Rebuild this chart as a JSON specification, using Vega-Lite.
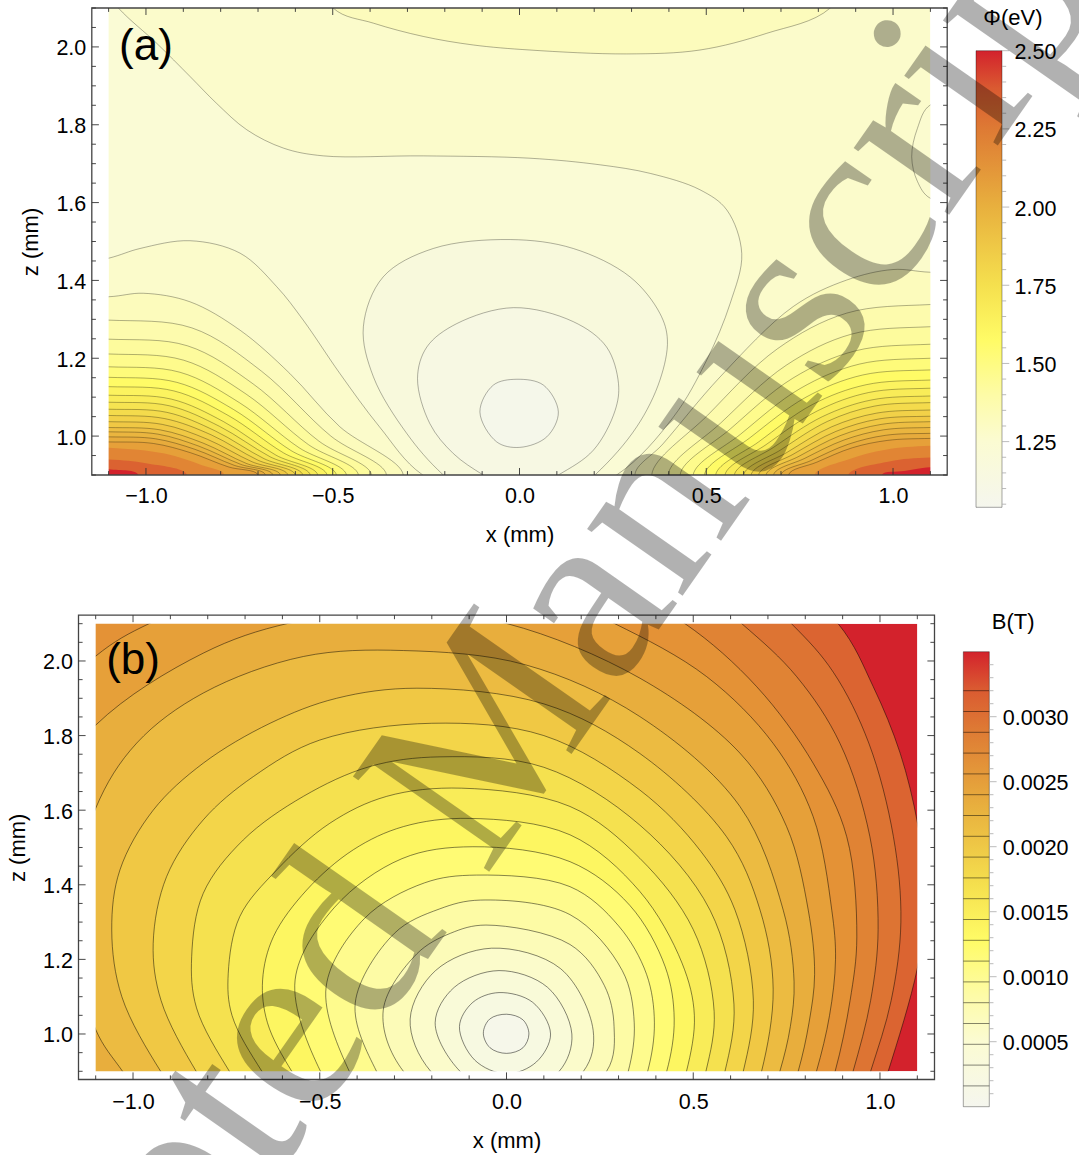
{"$schema":"https://vega.github.io/schema/vega-lite/v6.json","width":1079,"height":1155,"padding":0,"autosize":{"type":"none"},"background":"white",
"config":{"view":{"stroke":null},"font":"Liberation Sans","text":{"font":"Liberation Sans"},"axis":{"domain":false,"ticks":false,"tickSize":0,"grid":false,"labelFont":"Liberation Sans","titleFont":"Liberation Sans","labelFontSize":21.5,"titleFontSize":22,"titleFontWeight":"normal","labelColor":"#000","titleColor":"#000","labelOverlap":false,"labelFlush":false}},
"datasets":{
"av":[{"x":-1.1,"z":0.9,"z2":0.91},{"x":-1,"z":0.9,"z2":0.918},{"x":-0.9,"z":0.9,"z2":0.91},{"x":-0.8,"z":0.9,"z2":0.91},{"x":-0.7,"z":0.9,"z2":0.91},{"x":-0.6,"z":0.9,"z2":0.91},{"x":-0.5,"z":0.9,"z2":0.918},{"x":-0.4,"z":0.9,"z2":0.91},{"x":-0.3,"z":0.9,"z2":0.91},{"x":-0.2,"z":0.9,"z2":0.91},{"x":-0.1,"z":0.9,"z2":0.91},{"x":0,"z":0.9,"z2":0.918},{"x":0.1,"z":0.9,"z2":0.91},{"x":0.2,"z":0.9,"z2":0.91},{"x":0.3,"z":0.9,"z2":0.91},{"x":0.4,"z":0.9,"z2":0.91},{"x":0.5,"z":0.9,"z2":0.918},{"x":0.6,"z":0.9,"z2":0.91},{"x":0.7,"z":0.9,"z2":0.91},{"x":0.8,"z":0.9,"z2":0.91},{"x":0.9,"z":0.9,"z2":0.91},{"x":1,"z":0.9,"z2":0.918},{"x":1.1,"z":0.9,"z2":0.91},
{"x":-1.1,"z":2.1,"z2":2.09},{"x":-1,"z":2.1,"z2":2.082},{"x":-0.9,"z":2.1,"z2":2.09},{"x":-0.8,"z":2.1,"z2":2.09},{"x":-0.7,"z":2.1,"z2":2.09},{"x":-0.6,"z":2.1,"z2":2.09},{"x":-0.5,"z":2.1,"z2":2.082},{"x":-0.4,"z":2.1,"z2":2.09},{"x":-0.3,"z":2.1,"z2":2.09},{"x":-0.2,"z":2.1,"z2":2.09},{"x":-0.1,"z":2.1,"z2":2.09},{"x":0,"z":2.1,"z2":2.082},{"x":0.1,"z":2.1,"z2":2.09},{"x":0.2,"z":2.1,"z2":2.09},{"x":0.3,"z":2.1,"z2":2.09},{"x":0.4,"z":2.1,"z2":2.09},{"x":0.5,"z":2.1,"z2":2.082},{"x":0.6,"z":2.1,"z2":2.09},{"x":0.7,"z":2.1,"z2":2.09},{"x":0.8,"z":2.1,"z2":2.09},{"x":0.9,"z":2.1,"z2":2.09},{"x":1,"z":2.1,"z2":2.082},{"x":1.1,"z":2.1,"z2":2.09}],
"ah":[{"z":0.9,"x":-1.145,"x2":-1.134},{"z":0.95,"x":-1.145,"x2":-1.134},{"z":1,"x":-1.145,"x2":-1.126},{"z":1.05,"x":-1.145,"x2":-1.134},{"z":1.1,"x":-1.145,"x2":-1.134},{"z":1.15,"x":-1.145,"x2":-1.134},{"z":1.2,"x":-1.145,"x2":-1.126},{"z":1.25,"x":-1.145,"x2":-1.134},{"z":1.3,"x":-1.145,"x2":-1.134},{"z":1.35,"x":-1.145,"x2":-1.134},{"z":1.4,"x":-1.145,"x2":-1.126},{"z":1.45,"x":-1.145,"x2":-1.134},{"z":1.5,"x":-1.145,"x2":-1.134},{"z":1.55,"x":-1.145,"x2":-1.134},{"z":1.6,"x":-1.145,"x2":-1.126},{"z":1.65,"x":-1.145,"x2":-1.134},{"z":1.7,"x":-1.145,"x2":-1.134},{"z":1.75,"x":-1.145,"x2":-1.134},{"z":1.8,"x":-1.145,"x2":-1.126},{"z":1.85,"x":-1.145,"x2":-1.134},{"z":1.9,"x":-1.145,"x2":-1.134},{"z":1.95,"x":-1.145,"x2":-1.134},{"z":2,"x":-1.145,"x2":-1.126},{"z":2.05,"x":-1.145,"x2":-1.134},{"z":2.1,"x":-1.145,"x2":-1.134},
{"z":0.9,"x":1.145,"x2":1.134},{"z":0.95,"x":1.145,"x2":1.134},{"z":1,"x":1.145,"x2":1.126},{"z":1.05,"x":1.145,"x2":1.134},{"z":1.1,"x":1.145,"x2":1.134},{"z":1.15,"x":1.145,"x2":1.134},{"z":1.2,"x":1.145,"x2":1.126},{"z":1.25,"x":1.145,"x2":1.134},{"z":1.3,"x":1.145,"x2":1.134},{"z":1.35,"x":1.145,"x2":1.134},{"z":1.4,"x":1.145,"x2":1.126},{"z":1.45,"x":1.145,"x2":1.134},{"z":1.5,"x":1.145,"x2":1.134},{"z":1.55,"x":1.145,"x2":1.134},{"z":1.6,"x":1.145,"x2":1.126},{"z":1.65,"x":1.145,"x2":1.134},{"z":1.7,"x":1.145,"x2":1.134},{"z":1.75,"x":1.145,"x2":1.134},{"z":1.8,"x":1.145,"x2":1.126},{"z":1.85,"x":1.145,"x2":1.134},{"z":1.9,"x":1.145,"x2":1.134},{"z":1.95,"x":1.145,"x2":1.134},{"z":2,"x":1.145,"x2":1.126},{"z":2.05,"x":1.145,"x2":1.134},{"z":2.1,"x":1.145,"x2":1.134}],
"bv":[{"x":-1.1,"z":0.878,"z2":0.889},{"x":-1,"z":0.878,"z2":0.897},{"x":-0.9,"z":0.878,"z2":0.889},{"x":-0.8,"z":0.878,"z2":0.889},{"x":-0.7,"z":0.878,"z2":0.889},{"x":-0.6,"z":0.878,"z2":0.889},{"x":-0.5,"z":0.878,"z2":0.897},{"x":-0.4,"z":0.878,"z2":0.889},{"x":-0.3,"z":0.878,"z2":0.889},{"x":-0.2,"z":0.878,"z2":0.889},{"x":-0.1,"z":0.878,"z2":0.889},{"x":0,"z":0.878,"z2":0.897},{"x":0.1,"z":0.878,"z2":0.889},{"x":0.2,"z":0.878,"z2":0.889},{"x":0.3,"z":0.878,"z2":0.889},{"x":0.4,"z":0.878,"z2":0.889},{"x":0.5,"z":0.878,"z2":0.897},{"x":0.6,"z":0.878,"z2":0.889},{"x":0.7,"z":0.878,"z2":0.889},{"x":0.8,"z":0.878,"z2":0.889},{"x":0.9,"z":0.878,"z2":0.889},{"x":1,"z":0.878,"z2":0.897},{"x":1.1,"z":0.878,"z2":0.889},
{"x":-1.1,"z":2.123,"z2":2.112},{"x":-1,"z":2.123,"z2":2.104},{"x":-0.9,"z":2.123,"z2":2.112},{"x":-0.8,"z":2.123,"z2":2.112},{"x":-0.7,"z":2.123,"z2":2.112},{"x":-0.6,"z":2.123,"z2":2.112},{"x":-0.5,"z":2.123,"z2":2.104},{"x":-0.4,"z":2.123,"z2":2.112},{"x":-0.3,"z":2.123,"z2":2.112},{"x":-0.2,"z":2.123,"z2":2.112},{"x":-0.1,"z":2.123,"z2":2.112},{"x":0,"z":2.123,"z2":2.104},{"x":0.1,"z":2.123,"z2":2.112},{"x":0.2,"z":2.123,"z2":2.112},{"x":0.3,"z":2.123,"z2":2.112},{"x":0.4,"z":2.123,"z2":2.112},{"x":0.5,"z":2.123,"z2":2.104},{"x":0.6,"z":2.123,"z2":2.112},{"x":0.7,"z":2.123,"z2":2.112},{"x":0.8,"z":2.123,"z2":2.112},{"x":0.9,"z":2.123,"z2":2.112},{"x":1,"z":2.123,"z2":2.104},{"x":1.1,"z":2.123,"z2":2.112}],
"bh":[{"z":0.9,"x":-1.146,"x2":-1.135},{"z":0.95,"x":-1.146,"x2":-1.135},{"z":1,"x":-1.146,"x2":-1.127},{"z":1.05,"x":-1.146,"x2":-1.135},{"z":1.1,"x":-1.146,"x2":-1.135},{"z":1.15,"x":-1.146,"x2":-1.135},{"z":1.2,"x":-1.146,"x2":-1.127},{"z":1.25,"x":-1.146,"x2":-1.135},{"z":1.3,"x":-1.146,"x2":-1.135},{"z":1.35,"x":-1.146,"x2":-1.135},{"z":1.4,"x":-1.146,"x2":-1.127},{"z":1.45,"x":-1.146,"x2":-1.135},{"z":1.5,"x":-1.146,"x2":-1.135},{"z":1.55,"x":-1.146,"x2":-1.135},{"z":1.6,"x":-1.146,"x2":-1.127},{"z":1.65,"x":-1.146,"x2":-1.135},{"z":1.7,"x":-1.146,"x2":-1.135},{"z":1.75,"x":-1.146,"x2":-1.135},{"z":1.8,"x":-1.146,"x2":-1.127},{"z":1.85,"x":-1.146,"x2":-1.135},{"z":1.9,"x":-1.146,"x2":-1.135},{"z":1.95,"x":-1.146,"x2":-1.135},{"z":2,"x":-1.146,"x2":-1.127},{"z":2.05,"x":-1.146,"x2":-1.135},{"z":2.1,"x":-1.146,"x2":-1.135},
{"z":0.9,"x":1.146,"x2":1.135},{"z":0.95,"x":1.146,"x2":1.135},{"z":1,"x":1.146,"x2":1.127},{"z":1.05,"x":1.146,"x2":1.135},{"z":1.1,"x":1.146,"x2":1.135},{"z":1.15,"x":1.146,"x2":1.135},{"z":1.2,"x":1.146,"x2":1.127},{"z":1.25,"x":1.146,"x2":1.135},{"z":1.3,"x":1.146,"x2":1.135},{"z":1.35,"x":1.146,"x2":1.135},{"z":1.4,"x":1.146,"x2":1.127},{"z":1.45,"x":1.146,"x2":1.135},{"z":1.5,"x":1.146,"x2":1.135},{"z":1.55,"x":1.146,"x2":1.135},{"z":1.6,"x":1.146,"x2":1.127},{"z":1.65,"x":1.146,"x2":1.135},{"z":1.7,"x":1.146,"x2":1.135},{"z":1.75,"x":1.146,"x2":1.135},{"z":1.8,"x":1.146,"x2":1.127},{"z":1.85,"x":1.146,"x2":1.135},{"z":1.9,"x":1.146,"x2":1.135},{"z":1.95,"x":1.146,"x2":1.135},{"z":2,"x":1.146,"x2":1.127},{"z":2.05,"x":1.146,"x2":1.135},{"z":2.1,"x":1.146,"x2":1.135}],
"bc":[
{"v":0.00312,"x":-0.35,"z":2.72},{"v":0.00312,"x":0.6,"z":2.35},{"v":0.00312,"x":0.888,"z":2.1},{"v":0.00312,"x":0.982,"z":1.931},{"v":0.00312,"x":1.054,"z":1.753},{"v":0.00312,"x":1.101,"z":1.563},{"v":0.00312,"x":1.125,"z":1.37},{"v":0.00312,"x":1.1,"z":1.176},{"v":0.00312,"x":1.022,"z":0.9},{"v":0.00312,"x":0.97,"z":0.75},{"v":0.00312,"x":-0.2,"z":0},{"v":0.00312,"x":-1.7,"z":0.9},{"v":0.00312,"x":-2,"z":1.5},{"v":0.00312,"x":-1.7,"z":2.2},{"v":0.00312,"x":-1,"z":2.6},
{"v":0.00296,"x":-0.35,"z":2.6},{"v":0.00296,"x":0.5,"z":2.33},{"v":0.00296,"x":0.763,"z":2.1},{"v":0.00296,"x":0.875,"z":1.97},{"v":0.00296,"x":0.97,"z":1.78},{"v":0.00296,"x":1.036,"z":1.529},{"v":0.00296,"x":1.056,"z":1.3},{"v":0.00296,"x":1.03,"z":1.09},{"v":0.00296,"x":0.975,"z":0.9},{"v":0.00296,"x":0.925,"z":0.75},{"v":0.00296,"x":-0.2,"z":0.1},{"v":0.00296,"x":-1.6,"z":0.9},{"v":0.00296,"x":-1.85,"z":1.5},{"v":0.00296,"x":-1.6,"z":2.1},{"v":0.00296,"x":-1,"z":2.5},
{"v":0.0028,"x":-0.35,"z":2.49},{"v":0.0028,"x":0.4,"z":2.28},{"v":0.0028,"x":0.63,"z":2.1},{"v":0.0028,"x":0.777,"z":1.958},{"v":0.0028,"x":0.893,"z":1.779},{"v":0.0028,"x":0.973,"z":1.529},{"v":0.0028,"x":0.995,"z":1.28},{"v":0.0028,"x":0.975,"z":1.09},{"v":0.0028,"x":0.928,"z":0.9},{"v":0.0028,"x":0.88,"z":0.75},{"v":0.0028,"x":-0.2,"z":0.2},{"v":0.0028,"x":-1.45,"z":0.9},{"v":0.0028,"x":-1.7,"z":1.4},{"v":0.0028,"x":-1.5,"z":2},{"v":0.0028,"x":-1,"z":2.4},
{"v":0.00264,"x":-0.35,"z":2.37},{"v":0.00264,"x":0.25,"z":2.22},{"v":0.00264,"x":0.478,"z":2.1},{"v":0.00264,"x":0.67,"z":1.931},{"v":0.00264,"x":0.821,"z":1.726},{"v":0.00264,"x":0.911,"z":1.529},{"v":0.00264,"x":0.938,"z":1.26},{"v":0.00264,"x":0.92,"z":1.09},{"v":0.00264,"x":0.88,"z":0.9},{"v":0.00264,"x":0.83,"z":0.75},{"v":0.00264,"x":-0.2,"z":0.3},{"v":0.00264,"x":-1.33,"z":0.9},{"v":0.00264,"x":-1.55,"z":1.3},{"v":0.00264,"x":-1.45,"z":1.85},{"v":0.00264,"x":-1.1,"z":2.2},
{"v":0.00248,"x":-0.33,"z":2.25},{"v":0.00248,"x":0.05,"z":2.2},{"v":0.00248,"x":0.29,"z":2.1},{"v":0.00248,"x":0.536,"z":1.958},{"v":0.00248,"x":0.714,"z":1.779},{"v":0.00248,"x":0.821,"z":1.583},{"v":0.00248,"x":0.871,"z":1.332},{"v":0.00248,"x":0.881,"z":1.2},{"v":0.00248,"x":0.865,"z":1.05},{"v":0.00248,"x":0.83,"z":0.9},{"v":0.00248,"x":0.78,"z":0.75},{"v":0.00248,"x":-0.2,"z":0.4},{"v":0.00248,"x":-1.13,"z":0.77},{"v":0.00248,"x":-1.23,"z":0.9},{"v":0.00248,"x":-1.42,"z":1.3},{"v":0.00248,"x":-1.35,"z":1.75},{"v":0.00248,"x":-1.1,"z":2.013},{"v":0.00248,"x":-0.955,"z":2.101},{"v":0.00248,"x":-0.65,"z":2.21},
{"v":0.00232,"x":-0.29,"z":2.135},{"v":0.00232,"x":0.002,"z":2.1},{"v":0.00232,"x":0.357,"z":1.954},{"v":0.00232,"x":0.625,"z":1.753},{"v":0.00232,"x":0.75,"z":1.556},{"v":0.00232,"x":0.808,"z":1.332},{"v":0.00232,"x":0.825,"z":1.16},{"v":0.00232,"x":0.81,"z":1.03},{"v":0.00232,"x":0.781,"z":0.9},{"v":0.00232,"x":0.73,"z":0.75},{"v":0.00232,"x":-0.2,"z":0.5},{"v":0.00232,"x":-1.03,"z":0.77},{"v":0.00232,"x":-1.13,"z":0.9},{"v":0.00232,"x":-1.3,"z":1.2},{"v":0.00232,"x":-1.3,"z":1.55},{"v":0.00232,"x":-1.1,"z":1.828},{"v":0.00232,"x":-0.812,"z":2.021},{"v":0.00232,"x":-0.584,"z":2.101},
{"v":0.00216,"x":-0.276,"z":2.028},{"v":0.00216,"x":0.05,"z":1.99},{"v":0.00216,"x":0.357,"z":1.851},{"v":0.00216,"x":0.625,"z":1.61},{"v":0.00216,"x":0.741,"z":1.332},{"v":0.00216,"x":0.77,"z":1.14},{"v":0.00216,"x":0.76,"z":1.02},{"v":0.00216,"x":0.732,"z":0.9},{"v":0.00216,"x":0.68,"z":0.75},{"v":0.00216,"x":-0.15,"z":0.45},{"v":0.00216,"x":-0.93,"z":0.77},{"v":0.00216,"x":-1.028,"z":0.9},{"v":0.00216,"x":-1.1,"z":1.012},{"v":0.00216,"x":-1.17,"z":1.3},{"v":0.00216,"x":-1.1,"z":1.605},{"v":0.00216,"x":-0.99,"z":1.78},{"v":0.00216,"x":-0.812,"z":1.914},{"v":0.00216,"x":-0.544,"z":2.012},
{"v":0.002,"x":-0.24,"z":1.927},{"v":0.002,"x":0.1,"z":1.885},{"v":0.002,"x":0.357,"z":1.752},{"v":0.002,"x":0.589,"z":1.529},{"v":0.002,"x":0.679,"z":1.332},{"v":0.002,"x":0.714,"z":1.12},{"v":0.002,"x":0.683,"z":0.9},{"v":0.002,"x":0.63,"z":0.75},{"v":0.002,"x":-0.15,"z":0.48},{"v":0.002,"x":-0.83,"z":0.77},{"v":0.002,"x":-0.926,"z":0.9},{"v":0.002,"x":-1.03,"z":1.1},{"v":0.002,"x":-1.057,"z":1.279},{"v":0.002,"x":-1.035,"z":1.44},{"v":0.002,"x":-0.946,"z":1.6},{"v":0.002,"x":-0.812,"z":1.726},{"v":0.002,"x":-0.633,"z":1.833},{"v":0.002,"x":-0.455,"z":1.9},
{"v":0.00184,"x":-0.2,"z":1.833},{"v":0.00184,"x":0.1,"z":1.8},{"v":0.00184,"x":0.357,"z":1.654},{"v":0.00184,"x":0.52,"z":1.49},{"v":0.00184,"x":0.612,"z":1.332},{"v":0.00184,"x":0.661,"z":1.09},{"v":0.00184,"x":0.634,"z":0.9},{"v":0.00184,"x":0.585,"z":0.75},{"v":0.00184,"x":-0.15,"z":0.5},{"v":0.00184,"x":-0.74,"z":0.77},{"v":0.00184,"x":-0.831,"z":0.9},{"v":0.00184,"x":-0.925,"z":1.09},{"v":0.00184,"x":-0.946,"z":1.243},{"v":0.00184,"x":-0.91,"z":1.422},{"v":0.00184,"x":-0.812,"z":1.574},{"v":0.00184,"x":-0.678,"z":1.69},{"v":0.00184,"x":-0.5,"z":1.788},
{"v":0.00168,"x":-0.178,"z":1.743},{"v":0.00168,"x":0.1,"z":1.715},{"v":0.00168,"x":0.357,"z":1.56},{"v":0.00168,"x":0.545,"z":1.332},{"v":0.00168,"x":0.609,"z":1.08},{"v":0.00168,"x":0.585,"z":0.9},{"v":0.00168,"x":0.535,"z":0.75},{"v":0.00168,"x":-0.15,"z":0.52},{"v":0.00168,"x":-0.65,"z":0.77},{"v":0.00168,"x":-0.742,"z":0.9},{"v":0.00168,"x":-0.83,"z":1.07},{"v":0.00168,"x":-0.843,"z":1.207},{"v":0.00168,"x":-0.812,"z":1.377},{"v":0.00168,"x":-0.705,"z":1.52},{"v":0.00168,"x":-0.544,"z":1.637},{"v":0.00168,"x":-0.366,"z":1.717},
{"v":0.00152,"x":-0.12,"z":1.659},{"v":0.00152,"x":0.17,"z":1.61},{"v":0.00152,"x":0.357,"z":1.471},{"v":0.00152,"x":0.5,"z":1.28},{"v":0.00152,"x":0.556,"z":1.06},{"v":0.00152,"x":0.534,"z":0.9},{"v":0.00152,"x":0.485,"z":0.75},{"v":0.00152,"x":-0.1,"z":0.54},{"v":0.00152,"x":-0.56,"z":0.77},{"v":0.00152,"x":-0.655,"z":0.9},{"v":0.00152,"x":-0.735,"z":1.05},{"v":0.00152,"x":-0.745,"z":1.163},{"v":0.00152,"x":-0.714,"z":1.315},{"v":0.00152,"x":-0.615,"z":1.44},{"v":0.00152,"x":-0.473,"z":1.565},{"v":0.00152,"x":-0.321,"z":1.637},
{"v":0.00136,"x":-0.1,"z":1.578},{"v":0.00136,"x":0.17,"z":1.534},{"v":0.00136,"x":0.357,"z":1.382},{"v":0.00136,"x":0.47,"z":1.19},{"v":0.00136,"x":0.503,"z":1.05},{"v":0.00136,"x":0.482,"z":0.9},{"v":0.00136,"x":0.43,"z":0.75},{"v":0.00136,"x":-0.05,"z":0.56},{"v":0.00136,"x":-0.48,"z":0.77},{"v":0.00136,"x":-0.575,"z":0.9},{"v":0.00136,"x":-0.64,"z":1.03},{"v":0.00136,"x":-0.653,"z":1.145},{"v":0.00136,"x":-0.624,"z":1.261},{"v":0.00136,"x":-0.535,"z":1.386},{"v":0.00136,"x":-0.41,"z":1.494},{"v":0.00136,"x":-0.276,"z":1.556},
{"v":0.0012,"x":-0.09,"z":1.502},{"v":0.0012,"x":0.17,"z":1.462},{"v":0.0012,"x":0.33,"z":1.345},{"v":0.0012,"x":0.425,"z":1.18},{"v":0.0012,"x":0.449,"z":1.04},{"v":0.0012,"x":0.429,"z":0.9},{"v":0.0012,"x":0.37,"z":0.75},{"v":0.0012,"x":0,"z":0.6},{"v":0.0012,"x":-0.41,"z":0.78},{"v":0.0012,"x":-0.498,"z":0.9},{"v":0.0012,"x":-0.566,"z":1.145},{"v":0.0012,"x":-0.46,"z":1.34},{"v":0.0012,"x":-0.28,"z":1.47},
{"v":0.00104,"x":-0.08,"z":1.426},{"v":0.00104,"x":0.17,"z":1.395},{"v":0.00104,"x":0.3,"z":1.29},{"v":0.00104,"x":0.375,"z":1.16},{"v":0.00104,"x":0.396,"z":1.03},{"v":0.00104,"x":0.378,"z":0.9},{"v":0.00104,"x":0.32,"z":0.75},{"v":0.00104,"x":0,"z":0.64},{"v":0.00104,"x":-0.34,"z":0.78},{"v":0.00104,"x":-0.421,"z":0.9},{"v":0.00104,"x":-0.483,"z":1.126},{"v":0.00104,"x":-0.38,"z":1.31},{"v":0.00104,"x":-0.22,"z":1.405},
{"v":0.00088,"x":-0.07,"z":1.359},{"v":0.00088,"x":0.17,"z":1.32},{"v":0.00088,"x":0.31,"z":1.17},{"v":0.00088,"x":0.342,"z":1.03},{"v":0.00088,"x":0.326,"z":0.9},{"v":0.00088,"x":0.27,"z":0.76},{"v":0.00088,"x":0,"z":0.68},{"v":0.00088,"x":-0.27,"z":0.79},{"v":0.00088,"x":-0.348,"z":0.9},{"v":0.00088,"x":-0.405,"z":1.083},{"v":0.00088,"x":-0.3,"z":1.27},{"v":0.00088,"x":-0.18,"z":1.335},
{"v":0.00072,"x":-0.055,"z":1.292},{"v":0.00072,"x":0.17,"z":1.24},{"v":0.00072,"x":0.262,"z":1.13},{"v":0.00072,"x":0.288,"z":1.02},{"v":0.00072,"x":0.268,"z":0.9},{"v":0.00072,"x":0,"z":0.72},{"v":0.00072,"x":-0.276,"z":0.9},{"v":0.00072,"x":-0.33,"z":1.064},{"v":0.00072,"x":-0.24,"z":1.215},{"v":0.00072,"x":-0.15,"z":1.27},
{"v":0.00056,"x":-0.04,"z":1.23},{"v":0.00056,"x":0.145,"z":1.175},{"v":0.00056,"x":0.232,"z":1.01},{"v":0.00056,"x":0.206,"z":0.9},{"v":0.00056,"x":0,"z":0.78},{"v":0.00056,"x":-0.203,"z":0.9},{"v":0.00056,"x":-0.258,"z":1.04},{"v":0.00056,"x":-0.19,"z":1.17},
{"v":0.0004,"x":-0.02,"z":1.17},{"v":0.0004,"x":0.11,"z":1.125},{"v":0.0004,"x":0.175,"z":1.0},{"v":0.0004,"x":0.141,"z":0.9},{"v":0.0004,"x":0,"z":0.83},{"v":0.0004,"x":-0.1245,"z":0.9},{"v":0.0004,"x":-0.191,"z":1.03},{"v":0.0004,"x":-0.14,"z":1.125},
{"v":0.00024,"x":-0.02,"z":1.111},{"v":0.00024,"x":0.07,"z":1.085},{"v":0.00024,"x":0.118,"z":1.0},{"v":0.00024,"x":0.08,"z":0.925},{"v":0.00024,"x":0,"z":0.893},{"v":0.00024,"x":-0.085,"z":0.93},{"v":0.00024,"x":-0.126,"z":1.02},{"v":0.00024,"x":-0.09,"z":1.085},
{"v":0.00008,"x":0,"z":1.053},{"v":0.00008,"x":0.044,"z":1.038},{"v":0.00008,"x":0.06,"z":1.0},{"v":0.00008,"x":0.044,"z":0.963},{"v":0.00008,"x":0,"z":0.948},{"v":0.00008,"x":-0.044,"z":0.963},{"v":0.00008,"x":-0.062,"z":1.002},{"v":0.00008,"x":-0.045,"z":1.04}
],
"ac":[
{"c":"c4","v":1.225,"x":-0.259,"z":0.9},{"c":"c4","v":1.225,"x":-0.375,"z":1.024},{"c":"c4","v":1.225,"x":-0.481,"z":1.161},{"c":"c4","v":1.225,"x":-0.579,"z":1.298},{"c":"c4","v":1.225,"x":-0.65,"z":1.384},{"c":"c4","v":1.225,"x":-0.748,"z":1.47},{"c":"c4","v":1.225,"x":-0.882,"z":1.502},{"c":"c4","v":1.225,"x":-1.016,"z":1.482},{"c":"c4","v":1.225,"x":-1.1,"z":1.457},{"c":"c4","v":1.225,"x":-1.4,"z":1.4},{"c":"c4","v":1.225,"x":-1.4,"z":2.3},{"c":"c4","v":1.225,"x":-1.2,"z":2.25},{"c":"c4","v":1.225,"x":-1.074,"z":2.1},{"c":"c4","v":1.225,"x":-0.972,"z":2.01},{"c":"c4","v":1.225,"x":-0.882,"z":1.924},{"c":"c4","v":1.225,"x":-0.811,"z":1.855},{"c":"c4","v":1.225,"x":-0.73,"z":1.787},{"c":"c4","v":1.225,"x":-0.632,"z":1.74},{"c":"c4","v":1.225,"x":-0.525,"z":1.72},{"c":"c4","v":1.225,"x":-0.258,"z":1.72},{"c":"c4","v":1.225,"x":0.028,"z":1.714},{"c":"c4","v":1.225,"x":0.216,"z":1.697},{"c":"c4","v":1.225,"x":0.35,"z":1.675},{"c":"c4","v":1.225,"x":0.483,"z":1.633},{"c":"c4","v":1.225,"x":0.555,"z":1.581},{"c":"c4","v":1.225,"x":0.595,"z":1.469},{"c":"c4","v":1.225,"x":0.564,"z":1.341},{"c":"c4","v":1.225,"x":0.501,"z":1.195},{"c":"c4","v":1.225,"x":0.412,"z":1.049},{"c":"c4","v":1.225,"x":0.26,"z":0.9},{"c":"c4","v":1.225,"x":0,"z":0.8},
{"c":"top","v":1.325,"x":-0.499,"z":2.1},{"c":"top","v":1.325,"x":-0.391,"z":2.061},{"c":"top","v":1.325,"x":-0.258,"z":2.027},{"c":"top","v":1.325,"x":-0.124,"z":2.005},{"c":"top","v":1.325,"x":0.028,"z":1.992},{"c":"top","v":1.325,"x":0.287,"z":1.982},{"c":"top","v":1.325,"x":0.483,"z":1.992},{"c":"top","v":1.325,"x":0.662,"z":2.035},{"c":"top","v":1.325,"x":0.832,"z":2.1},{"c":"top","v":1.325,"x":0.95,"z":2.3},{"c":"top","v":1.325,"x":-0.6,"z":2.3},
{"c":"arc","v":1.26,"x":1.1,"z":1.851},{"c":"arc","v":1.26,"x":1.065,"z":1.79},{"c":"arc","v":1.26,"x":1.05,"z":1.718},{"c":"arc","v":1.26,"x":1.065,"z":1.655},{"c":"arc","v":1.26,"x":1.1,"z":1.611},{"c":"arc","v":1.26,"x":1.25,"z":1.6},{"c":"arc","v":1.26,"x":1.25,"z":1.86},
{"c":"l30","v":1.325,"x":-1.35,"z":1.358},{"c":"l30","v":1.325,"x":-1.1,"z":1.358},{"c":"l30","v":1.325,"x":-1.007,"z":1.367},{"c":"l30","v":1.325,"x":-0.882,"z":1.345},{"c":"l30","v":1.325,"x":-0.748,"z":1.272},{"c":"l30","v":1.325,"x":-0.615,"z":1.161},{"c":"l30","v":1.325,"x":-0.481,"z":1.024},{"c":"l30","v":1.325,"x":-0.311,"z":0.9},{"c":"l30","v":1.325,"x":-0.37,"z":0.82},{"c":"l30","v":1.325,"x":-1.35,"z":0.8},
{"c":"r30","v":1.325,"x":1.35,"z":1.421},{"c":"r30","v":1.325,"x":1.1,"z":1.421},{"c":"r30","v":1.325,"x":1.0,"z":1.428},{"c":"r30","v":1.325,"x":0.876,"z":1.401},{"c":"r30","v":1.325,"x":0.733,"z":1.333},{"c":"r30","v":1.325,"x":0.537,"z":1.152},{"c":"r30","v":1.325,"x":0.385,"z":0.981},{"c":"r30","v":1.325,"x":0.309,"z":0.9},{"c":"r30","v":1.325,"x":0.37,"z":0.82},{"c":"r30","v":1.325,"x":1.35,"z":0.8},
{"c":"l35","v":1.375,"x":-1.35,"z":1.298},{"c":"l35","v":1.375,"x":-1.1,"z":1.298},{"c":"l35","v":1.375,"x":-0.877,"z":1.278},{"c":"l35","v":1.375,"x":-0.691,"z":1.167},{"c":"l35","v":1.375,"x":-0.505,"z":1.0},{"c":"l35","v":1.375,"x":-0.356,"z":0.9},{"c":"l35","v":1.375,"x":-0.42,"z":0.82},{"c":"l35","v":1.375,"x":-1.35,"z":0.8},
{"c":"r35","v":1.375,"x":1.35,"z":1.338},{"c":"r35","v":1.375,"x":1.1,"z":1.338},{"c":"r35","v":1.375,"x":0.876,"z":1.316},{"c":"r35","v":1.375,"x":0.69,"z":1.224},{"c":"r35","v":1.375,"x":0.503,"z":1.053},{"c":"r35","v":1.375,"x":0.354,"z":0.9},{"c":"r35","v":1.375,"x":0.41,"z":0.82},{"c":"r35","v":1.375,"x":1.35,"z":0.8},
{"c":"l40","v":1.425,"x":-1.35,"z":1.249},{"c":"l40","v":1.425,"x":-1.1,"z":1.249},{"c":"l40","v":1.425,"x":-0.889,"z":1.232},{"c":"l40","v":1.425,"x":-0.713,"z":1.134},{"c":"l40","v":1.425,"x":-0.537,"z":0.987},{"c":"l40","v":1.425,"x":-0.396,"z":0.9},{"c":"l40","v":1.425,"x":-0.46,"z":0.82},{"c":"l40","v":1.425,"x":-1.35,"z":0.8},
{"c":"r40","v":1.425,"x":1.35,"z":1.281},{"c":"r40","v":1.425,"x":1.1,"z":1.281},{"c":"r40","v":1.425,"x":0.889,"z":1.262},{"c":"r40","v":1.425,"x":0.714,"z":1.182},{"c":"r40","v":1.425,"x":0.538,"z":1.033},{"c":"r40","v":1.425,"x":0.398,"z":0.9},{"c":"r40","v":1.425,"x":0.46,"z":0.82},{"c":"r40","v":1.425,"x":1.35,"z":0.8},
{"c":"l45","v":1.475,"x":-1.35,"z":1.211},{"c":"l45","v":1.475,"x":-1.1,"z":1.211},{"c":"l45","v":1.475,"x":-0.899,"z":1.195},{"c":"l45","v":1.475,"x":-0.732,"z":1.108},{"c":"l45","v":1.475,"x":-0.565,"z":0.978},{"c":"l45","v":1.475,"x":-0.431,"z":0.9},{"c":"l45","v":1.475,"x":-0.49,"z":0.82},{"c":"l45","v":1.475,"x":-1.35,"z":0.8},
{"c":"r45","v":1.475,"x":1.35,"z":1.236},{"c":"r45","v":1.475,"x":1.1,"z":1.236},{"c":"r45","v":1.475,"x":0.899,"z":1.219},{"c":"r45","v":1.475,"x":0.732,"z":1.149},{"c":"r45","v":1.475,"x":0.564,"z":1.018},{"c":"r45","v":1.475,"x":0.43,"z":0.9},{"c":"r45","v":1.475,"x":0.49,"z":0.82},{"c":"r45","v":1.475,"x":1.35,"z":0.8},
{"c":"l50","v":1.525,"x":-1.35,"z":1.178},{"c":"l50","v":1.525,"x":-1.1,"z":1.178},{"c":"l50","v":1.525,"x":-0.909,"z":1.164},{"c":"l50","v":1.525,"x":-0.75,"z":1.086},{"c":"l50","v":1.525,"x":-0.59,"z":0.97},{"c":"l50","v":1.525,"x":-0.463,"z":0.9},{"c":"l50","v":1.525,"x":-0.52,"z":0.82},{"c":"l50","v":1.525,"x":-1.35,"z":0.8},
{"c":"r50","v":1.525,"x":1.35,"z":1.2},{"c":"r50","v":1.525,"x":1.1,"z":1.2},{"c":"r50","v":1.525,"x":0.91,"z":1.185},{"c":"r50","v":1.525,"x":0.751,"z":1.122},{"c":"r50","v":1.525,"x":0.592,"z":1.005},{"c":"r50","v":1.525,"x":0.465,"z":0.9},{"c":"r50","v":1.525,"x":0.52,"z":0.82},{"c":"r50","v":1.525,"x":1.35,"z":0.8},
{"c":"l55","v":1.575,"x":-1.35,"z":1.151},{"c":"l55","v":1.575,"x":-1.1,"z":1.151},{"c":"l55","v":1.575,"x":-0.917,"z":1.138},{"c":"l55","v":1.575,"x":-0.765,"z":1.068},{"c":"l55","v":1.575,"x":-0.612,"z":0.963},{"c":"l55","v":1.575,"x":-0.49,"z":0.9},{"c":"l55","v":1.575,"x":-0.55,"z":0.82},{"c":"l55","v":1.575,"x":-1.35,"z":0.8},
{"c":"r55","v":1.575,"x":1.35,"z":1.17},{"c":"r55","v":1.575,"x":1.1,"z":1.17},{"c":"r55","v":1.575,"x":0.919,"z":1.157},{"c":"r55","v":1.575,"x":0.767,"z":1.1},{"c":"r55","v":1.575,"x":0.616,"z":0.995},{"c":"r55","v":1.575,"x":0.495,"z":0.9},{"c":"r55","v":1.575,"x":0.55,"z":0.82},{"c":"r55","v":1.575,"x":1.35,"z":0.8},
{"c":"l60","v":1.625,"x":-1.35,"z":1.127},{"c":"l60","v":1.625,"x":-1.1,"z":1.127},{"c":"l60","v":1.625,"x":-0.925,"z":1.116},{"c":"l60","v":1.625,"x":-0.778,"z":1.052},{"c":"l60","v":1.625,"x":-0.632,"z":0.957},{"c":"l60","v":1.625,"x":-0.515,"z":0.9},{"c":"l60","v":1.625,"x":-0.57,"z":0.82},{"c":"l60","v":1.625,"x":-1.35,"z":0.8},
{"c":"r60","v":1.625,"x":1.35,"z":1.144},{"c":"r60","v":1.625,"x":1.1,"z":1.144},{"c":"r60","v":1.625,"x":0.928,"z":1.132},{"c":"r60","v":1.625,"x":0.784,"z":1.081},{"c":"r60","v":1.625,"x":0.64,"z":0.985},{"c":"r60","v":1.625,"x":0.525,"z":0.9},{"c":"r60","v":1.625,"x":0.58,"z":0.82},{"c":"r60","v":1.625,"x":1.35,"z":0.8},
{"c":"l65","v":1.675,"x":-1.35,"z":1.105},{"c":"l65","v":1.675,"x":-1.1,"z":1.105},{"c":"l65","v":1.675,"x":-0.932,"z":1.095},{"c":"l65","v":1.675,"x":-0.792,"z":1.037},{"c":"l65","v":1.675,"x":-0.652,"z":0.951},{"c":"l65","v":1.675,"x":-0.54,"z":0.9},{"c":"l65","v":1.675,"x":-0.6,"z":0.82},{"c":"l65","v":1.675,"x":-1.35,"z":0.8},
{"c":"r65","v":1.675,"x":1.35,"z":1.123},{"c":"r65","v":1.675,"x":1.1,"z":1.123},{"c":"r65","v":1.675,"x":0.935,"z":1.112},{"c":"r65","v":1.675,"x":0.798,"z":1.065},{"c":"r65","v":1.675,"x":0.66,"z":0.978},{"c":"r65","v":1.675,"x":0.55,"z":0.9},{"c":"r65","v":1.675,"x":0.6,"z":0.82},{"c":"r65","v":1.675,"x":1.35,"z":0.8},
{"c":"l70","v":1.725,"x":-1.35,"z":1.087},{"c":"l70","v":1.725,"x":-1.1,"z":1.087},{"c":"l70","v":1.725,"x":-0.938,"z":1.078},{"c":"l70","v":1.725,"x":-0.803,"z":1.025},{"c":"l70","v":1.725,"x":-0.668,"z":0.947},{"c":"l70","v":1.725,"x":-0.56,"z":0.9},{"c":"l70","v":1.725,"x":-0.62,"z":0.82},{"c":"l70","v":1.725,"x":-1.35,"z":0.8},
{"c":"r70","v":1.725,"x":1.35,"z":1.103},{"c":"r70","v":1.725,"x":1.1,"z":1.103},{"c":"r70","v":1.725,"x":0.943,"z":1.093},{"c":"r70","v":1.725,"x":0.811,"z":1.05},{"c":"r70","v":1.725,"x":0.68,"z":0.971},{"c":"r70","v":1.725,"x":0.575,"z":0.9},{"c":"r70","v":1.725,"x":0.63,"z":0.82},{"c":"r70","v":1.725,"x":1.35,"z":0.8},
{"c":"l75","v":1.775,"x":-1.35,"z":1.069},{"c":"l75","v":1.775,"x":-1.1,"z":1.069},{"c":"l75","v":1.775,"x":-0.944,"z":1.061},{"c":"l75","v":1.775,"x":-0.814,"z":1.013},{"c":"l75","v":1.775,"x":-0.684,"z":0.942},{"c":"l75","v":1.775,"x":-0.58,"z":0.9},{"c":"l75","v":1.775,"x":-0.64,"z":0.82},{"c":"l75","v":1.775,"x":-1.35,"z":0.8},
{"c":"r75","v":1.775,"x":1.35,"z":1.086},{"c":"r75","v":1.775,"x":1.1,"z":1.086},{"c":"r75","v":1.775,"x":0.95,"z":1.077},{"c":"r75","v":1.775,"x":0.825,"z":1.038},{"c":"r75","v":1.775,"x":0.7,"z":0.965},{"c":"r75","v":1.775,"x":0.6,"z":0.9},{"c":"r75","v":1.775,"x":0.66,"z":0.82},{"c":"r75","v":1.775,"x":1.35,"z":0.8},
{"c":"l80","v":1.825,"x":-1.35,"z":1.053},{"c":"l80","v":1.825,"x":-1.1,"z":1.053},{"c":"l80","v":1.825,"x":-0.95,"z":1.045},{"c":"l80","v":1.825,"x":-0.825,"z":1.003},{"c":"l80","v":1.825,"x":-0.7,"z":0.938},{"c":"l80","v":1.825,"x":-0.6,"z":0.9},{"c":"l80","v":1.825,"x":-0.66,"z":0.82},{"c":"l80","v":1.825,"x":-1.35,"z":0.8},
{"c":"r80","v":1.825,"x":1.35,"z":1.067},{"c":"r80","v":1.825,"x":1.1,"z":1.067},{"c":"r80","v":1.825,"x":0.956,"z":1.059},{"c":"r80","v":1.825,"x":0.836,"z":1.024},{"c":"r80","v":1.825,"x":0.716,"z":0.958},{"c":"r80","v":1.825,"x":0.62,"z":0.9},{"c":"r80","v":1.825,"x":0.68,"z":0.82},{"c":"r80","v":1.825,"x":1.35,"z":0.8},
{"c":"l85","v":1.875,"x":-1.35,"z":1.037},{"c":"l85","v":1.875,"x":-1.1,"z":1.037},{"c":"l85","v":1.875,"x":-0.956,"z":1.03},{"c":"l85","v":1.875,"x":-0.836,"z":0.992},{"c":"l85","v":1.875,"x":-0.716,"z":0.934},{"c":"l85","v":1.875,"x":-0.62,"z":0.9},{"c":"l85","v":1.875,"x":-0.68,"z":0.82},{"c":"l85","v":1.875,"x":-1.35,"z":0.8},
{"c":"r85","v":1.875,"x":1.35,"z":1.051},{"c":"r85","v":1.875,"x":1.1,"z":1.051},{"c":"r85","v":1.875,"x":0.962,"z":1.044},{"c":"r85","v":1.875,"x":0.847,"z":1.012},{"c":"r85","v":1.875,"x":0.732,"z":0.953},{"c":"r85","v":1.875,"x":0.64,"z":0.9},{"c":"r85","v":1.875,"x":0.7,"z":0.82},{"c":"r85","v":1.875,"x":1.35,"z":0.8},
{"c":"l90","v":1.925,"x":-1.35,"z":1.022},{"c":"l90","v":1.925,"x":-1.1,"z":1.022},{"c":"l90","v":1.925,"x":-0.962,"z":1.016},{"c":"l90","v":1.925,"x":-0.847,"z":0.982},{"c":"l90","v":1.925,"x":-0.732,"z":0.93},{"c":"l90","v":1.925,"x":-0.64,"z":0.9},{"c":"l90","v":1.925,"x":-0.7,"z":0.82},{"c":"l90","v":1.925,"x":-1.35,"z":0.8},
{"c":"r90","v":1.925,"x":1.35,"z":1.037},{"c":"r90","v":1.925,"x":1.1,"z":1.037},{"c":"r90","v":1.925,"x":0.968,"z":1.03},{"c":"r90","v":1.925,"x":0.858,"z":1.001},{"c":"r90","v":1.925,"x":0.748,"z":0.948},{"c":"r90","v":1.925,"x":0.66,"z":0.9},{"c":"r90","v":1.925,"x":0.72,"z":0.82},{"c":"r90","v":1.925,"x":1.35,"z":0.8},
{"c":"l95","v":1.975,"x":-1.35,"z":1.011},{"c":"l95","v":1.975,"x":-1.1,"z":1.011},{"c":"l95","v":1.975,"x":-0.968,"z":1.005},{"c":"l95","v":1.975,"x":-0.858,"z":0.974},{"c":"l95","v":1.975,"x":-0.748,"z":0.928},{"c":"l95","v":1.975,"x":-0.66,"z":0.9},{"c":"l95","v":1.975,"x":-0.72,"z":0.82},{"c":"l95","v":1.975,"x":-1.35,"z":0.8},
{"c":"r95","v":1.975,"x":1.35,"z":1.022},{"c":"r95","v":1.975,"x":1.1,"z":1.022},{"c":"r95","v":1.975,"x":0.974,"z":1.016},{"c":"r95","v":1.975,"x":0.869,"z":0.99},{"c":"r95","v":1.975,"x":0.764,"z":0.943},{"c":"r95","v":1.975,"x":0.68,"z":0.9},{"c":"r95","v":1.975,"x":0.74,"z":0.82},{"c":"r95","v":1.975,"x":1.35,"z":0.8},
{"c":"l00","v":2.025,"x":-1.35,"z":0.998},{"c":"l00","v":2.025,"x":-1.1,"z":0.998},{"c":"l00","v":2.025,"x":-0.974,"z":0.993},{"c":"l00","v":2.025,"x":-0.869,"z":0.966},{"c":"l00","v":2.025,"x":-0.764,"z":0.925},{"c":"l00","v":2.025,"x":-0.68,"z":0.9},{"c":"l00","v":2.025,"x":-0.74,"z":0.82},{"c":"l00","v":2.025,"x":-1.35,"z":0.8},
{"c":"r00","v":2.025,"x":1.35,"z":1.007},{"c":"r00","v":2.025,"x":1.1,"z":1.007},{"c":"r00","v":2.025,"x":0.98,"z":1.002},{"c":"r00","v":2.025,"x":0.88,"z":0.979},{"c":"r00","v":2.025,"x":0.78,"z":0.937},{"c":"r00","v":2.025,"x":0.7,"z":0.9},{"c":"r00","v":2.025,"x":0.76,"z":0.82},{"c":"r00","v":2.025,"x":1.35,"z":0.8},
{"c":"l05","v":2.075,"x":-1.35,"z":0.985},{"c":"l05","v":2.075,"x":-1.1,"z":0.985},{"c":"l05","v":2.075,"x":-0.98,"z":0.981},{"c":"l05","v":2.075,"x":-0.88,"z":0.957},{"c":"l05","v":2.075,"x":-0.78,"z":0.921},{"c":"l05","v":2.075,"x":-0.7,"z":0.9},{"c":"l05","v":2.075,"x":-0.76,"z":0.82},{"c":"l05","v":2.075,"x":-1.35,"z":0.8},
{"c":"r05","v":2.075,"x":1.35,"z":0.994},{"c":"r05","v":2.075,"x":1.1,"z":0.994},{"c":"r05","v":2.075,"x":0.986,"z":0.989},{"c":"r05","v":2.075,"x":0.891,"z":0.97},{"c":"r05","v":2.075,"x":0.796,"z":0.933},{"c":"r05","v":2.075,"x":0.72,"z":0.9},{"c":"r05","v":2.075,"x":0.78,"z":0.82},{"c":"r05","v":2.075,"x":1.35,"z":0.8},
{"c":"c3","v":1.175,"x":-0.025,"z":1.505},{"c":"c3","v":1.175,"x":0.144,"z":1.482},{"c":"c3","v":1.175,"x":0.296,"z":1.409},{"c":"c3","v":1.175,"x":0.376,"z":1.315},{"c":"c3","v":1.175,"x":0.396,"z":1.247},{"c":"c3","v":1.175,"x":0.376,"z":1.144},{"c":"c3","v":1.175,"x":0.314,"z":1.024},{"c":"c3","v":1.175,"x":0.202,"z":0.9},{"c":"c3","v":1.175,"x":0,"z":0.75},{"c":"c3","v":1.175,"x":-0.204,"z":0.9},{"c":"c3","v":1.175,"x":-0.302,"z":1.007},{"c":"c3","v":1.175,"x":-0.391,"z":1.152},{"c":"c3","v":1.175,"x":-0.418,"z":1.281},{"c":"c3","v":1.175,"x":-0.365,"z":1.409},{"c":"c3","v":1.175,"x":-0.231,"z":1.482},
{"c":"c2","v":1.125,"x":-0.016,"z":1.33},{"c":"c2","v":1.125,"x":0.144,"z":1.294},{"c":"c2","v":1.125,"x":0.233,"z":1.229},{"c":"c2","v":1.125,"x":0.265,"z":1.135},{"c":"c2","v":1.125,"x":0.256,"z":1.066},{"c":"c2","v":1.125,"x":0.198,"z":0.964},{"c":"c2","v":1.125,"x":0.104,"z":0.9},{"c":"c2","v":1.125,"x":0,"z":0.85},{"c":"c2","v":1.125,"x":-0.097,"z":0.9},{"c":"c2","v":1.125,"x":-0.177,"z":0.955},{"c":"c2","v":1.125,"x":-0.24,"z":1.032},{"c":"c2","v":1.125,"x":-0.273,"z":1.148},{"c":"c2","v":1.125,"x":-0.248,"z":1.229},{"c":"c2","v":1.125,"x":-0.168,"z":1.289},
{"c":"c1","v":1.07,"x":-0.007,"z":1.146},{"c":"c1","v":1.07,"x":0.064,"z":1.131},{"c":"c1","v":1.07,"x":0.104,"z":1.062},{"c":"c1","v":1.07,"x":0.073,"z":0.998},{"c":"c1","v":1.07,"x":0.001,"z":0.971},{"c":"c1","v":1.07,"x":-0.061,"z":0.985},{"c":"c1","v":1.07,"x":-0.106,"z":1.062},{"c":"c1","v":1.07,"x":-0.07,"z":1.131}
],
"ax":[
{"c":"l1","v":2.2,"x":-1.35,"z":0.97},{"c":"l1","v":2.2,"x":-1.1,"z":0.97},{"c":"l1","v":2.2,"x":-0.95,"z":0.955},{"c":"l1","v":2.2,"x":-0.85,"z":0.925},{"c":"l1","v":2.2,"x":-0.79,"z":0.9},{"c":"l1","v":2.2,"x":-0.85,"z":0.82},{"c":"l1","v":2.2,"x":-1.35,"z":0.8},
{"c":"r1","v":2.2,"x":1.35,"z":0.975},{"c":"r1","v":2.2,"x":1.1,"z":0.975},{"c":"r1","v":2.2,"x":0.98,"z":0.965},{"c":"r1","v":2.2,"x":0.88,"z":0.94},{"c":"r1","v":2.2,"x":0.79,"z":0.9},{"c":"r1","v":2.2,"x":0.85,"z":0.82},{"c":"r1","v":2.2,"x":1.35,"z":0.8},
{"c":"l2","v":2.35,"x":-1.35,"z":0.94},{"c":"l2","v":2.35,"x":-1.1,"z":0.94},{"c":"l2","v":2.35,"x":-1.0,"z":0.93},{"c":"l2","v":2.35,"x":-0.89,"z":0.9},{"c":"l2","v":2.35,"x":-0.95,"z":0.82},{"c":"l2","v":2.35,"x":-1.35,"z":0.8},
{"c":"r2","v":2.35,"x":1.35,"z":0.945},{"c":"r2","v":2.35,"x":1.1,"z":0.945},{"c":"r2","v":2.35,"x":0.99,"z":0.935},{"c":"r2","v":2.35,"x":0.88,"z":0.9},{"c":"r2","v":2.35,"x":0.95,"z":0.82},{"c":"r2","v":2.35,"x":1.35,"z":0.8},
{"c":"l3","v":2.5,"x":-1.35,"z":0.915},{"c":"l3","v":2.5,"x":-1.1,"z":0.915},{"c":"l3","v":2.5,"x":-1.02,"z":0.9},{"c":"l3","v":2.5,"x":-1.07,"z":0.82},{"c":"l3","v":2.5,"x":-1.35,"z":0.8},
{"c":"r3","v":2.5,"x":1.35,"z":0.92},{"c":"r3","v":2.5,"x":1.1,"z":0.92},{"c":"r3","v":2.5,"x":1.03,"z":0.91},{"c":"r3","v":2.5,"x":0.97,"z":0.9},{"c":"r3","v":2.5,"x":1.02,"z":0.82},{"c":"r3","v":2.5,"x":1.35,"z":0.8}
]
},
"resolve":{"scale":{"x":"independent","y":"independent","fill":"independent"},"axis":{"x":"independent","y":"independent"}},
"layer":[
{"encoding":{"x":{"field":"x","type":"quantitative","scale":{"domain":[-1.146,1.146],"range":[78.5,934.5],"nice":false},"axis":{"zindex":1,"orient":"bottom","offset":-75.5,"values":[-1,-0.5,0,0.5,1],"format":".1f","title":"x (mm)","labelPadding":12,"titlePadding":17}},"y":{"field":"z","type":"quantitative","scale":{"domain":[0.878,2.123],"range":[1079.5,615.1],"nice":false},"axis":{"zindex":1,"orient":"left","offset":-78.5,"values":[1,1.2,1.4,1.6,1.8,2],"format":".1f","title":"z (mm)","labelPadding":6,"labelOffset":2,"titlePadding":13}}},
"layer":[
{"data":{"values":[{"x":-1.1,"x2":1.1,"z":0.9,"z2":2.1,"v":0.0035}]},"mark":{"type":"rect"},"encoding":{"x2":{"field":"x2"},"y2":{"field":"z2"},"fill":{"field":"v","type":"quantitative","legend":null,"scale":{"domain":[0,0.0005,0.00087,0.00128,0.0017,0.0023,0.0029,0.00321,0.0035],"range":["#f5f6ee","#fbfbd2","#fdfba6","#fffb66","#f5e04e","#e8b03e","#de7a34","#da5a31","#d3222c"]}}}},
{"data":{"name":"bc"},"mark":{"type":"line","filled":true,"interpolate":"catmull-rom-closed","stroke":"#000","strokeOpacity":0.6,"strokeWidth":0.8},"encoding":{"order":{"value":null},"detail":{"field":"v"},"fill":{"field":"v","type":"quantitative","legend":null,"scale":{"domain":[0,0.0005,0.00087,0.00128,0.0017,0.0023,0.0029,0.00321,0.0035],"range":["#f5f6ee","#fbfbd2","#fdfba6","#fffb66","#f5e04e","#e8b03e","#de7a34","#da5a31","#d3222c"]}}}},
{"data":{"values":[{"x":-3,"x2":-1.1,"z":-1,"z2":3.6},{"x":1.1,"x2":3,"z":-1,"z2":3.6},{"x":-3,"x2":3,"z":2.1,"z2":3.6},{"x":-3,"x2":3,"z":-1,"z2":0.9}]},"mark":{"type":"rect","fill":"#fff"},"encoding":{"x2":{"field":"x2"},"y2":{"field":"z2"}}}
]},
{"encoding":{"x":{"field":"x","type":"quantitative","scale":{"domain":[-1.145,1.145],"range":[91.8,947.2],"nice":false},"axis":{"zindex":1,"orient":"bottom","offset":-680,"values":[-1,-0.5,0,0.5,1],"format":".1f","title":"x (mm)","labelPadding":10,"titlePadding":18}},"y":{"field":"z","type":"quantitative","scale":{"domain":[0.9,2.1],"range":[475,8],"nice":false},"axis":{"zindex":1,"orient":"left","offset":-91.8,"values":[1,1.2,1.4,1.6,1.8,2],"format":".1f","title":"z (mm)","labelPadding":6,"labelOffset":2,"titlePadding":13}}},
"layer":[
{"data":{"values":[{"x":-1.1,"x2":1.1,"z":0.9,"z2":2.1,"v":1.275}]},"mark":{"type":"rect"},"encoding":{"x2":{"field":"x2"},"y2":{"field":"z2"},"fill":{"field":"v","type":"quantitative","legend":null,"scale":{"domain":[1.04,1.25,1.4,1.575,1.75,2,2.25,2.38,2.5],"range":["#f5f6ee","#fbfbd2","#fdfba6","#fffb66","#f5e04e","#e8b03e","#de7a34","#da5a31","#d3222c"]}}}},
{"data":{"name":"ac"},"mark":{"type":"line","filled":true,"interpolate":"catmull-rom-closed","stroke":"#000","strokeOpacity":0.38,"strokeWidth":0.8},"encoding":{"order":{"value":null},"detail":{"field":"c"},"fill":{"field":"v","type":"quantitative","legend":null,"scale":{"domain":[1.04,1.25,1.4,1.575,1.75,2,2.25,2.38,2.5],"range":["#f5f6ee","#fbfbd2","#fdfba6","#fffb66","#f5e04e","#e8b03e","#de7a34","#da5a31","#d3222c"]}}}},
{"data":{"name":"ax"},"mark":{"type":"line","filled":true,"interpolate":"catmull-rom-closed"},"encoding":{"order":{"value":null},"detail":{"field":"c"},"fill":{"field":"v","type":"quantitative","legend":null,"scale":{"domain":[1.04,1.25,1.4,1.575,1.75,2,2.25,2.38,2.5],"range":["#f5f6ee","#fbfbd2","#fdfba6","#fffb66","#f5e04e","#e8b03e","#de7a34","#da5a31","#d3222c"]}}}},
{"data":{"values":[{"x":-3,"x2":-1.1,"z":0.55,"z2":4},{"x":1.1,"x2":3,"z":0.55,"z2":4},{"x":-3,"x2":3,"z":2.1,"z2":4},{"x":-3,"x2":3,"z":0.55,"z2":0.9}]},"mark":{"type":"rect","fill":"#fff"},"encoding":{"x2":{"field":"x2"},"y2":{"field":"z2"}}},
{"data":{"values":[{"x":-1.145,"x2":1.145,"z":0.9,"z2":2.1}]},"mark":{"type":"rect","fill":null,"fillOpacity":0,"stroke":"#444","strokeWidth":1.3},"encoding":{"x2":{"field":"x2"},"y2":{"field":"z2"}}},
{"data":{"name":"av"},"mark":{"type":"rule","stroke":"#333","strokeWidth":0.9},"encoding":{"y2":{"field":"z2"}}},
{"data":{"name":"ah"},"mark":{"type":"rule","stroke":"#333","strokeWidth":0.9},"encoding":{"x2":{"field":"x2"}}},
{"data":{"values":[{"x":-1.0,"z":2.0,"t":"(a)"}]},"mark":{"type":"text","fontSize":44,"align":"center","baseline":"middle","font":"Liberation Sans"},"encoding":{"text":{"field":"t"}}}
]},
{"encoding":{"x":{"field":"x","type":"quantitative","scale":{"domain":[-1.146,1.146],"range":[78.5,934.5],"nice":false},"axis":null},"y":{"field":"z","type":"quantitative","scale":{"domain":[0.878,2.123],"range":[1079.5,615.1],"nice":false},"axis":null}},
"layer":[
{"data":{"values":[{"x":-1.146,"x2":1.146,"z":0.878,"z2":2.123}]},"mark":{"type":"rect","fill":null,"fillOpacity":0,"stroke":"#444","strokeWidth":1.3},"encoding":{"x2":{"field":"x2"},"y2":{"field":"z2"}}},
{"data":{"name":"bv"},"mark":{"type":"rule","stroke":"#333","strokeWidth":0.9},"encoding":{"y2":{"field":"z2"}}},
{"data":{"name":"bh"},"mark":{"type":"rule","stroke":"#333","strokeWidth":0.9},"encoding":{"x2":{"field":"x2"}}},
{"data":{"values":[{"x":-1.0,"z":2.0,"t":"(b)"}]},"mark":{"type":"text","fontSize":44,"align":"center","baseline":"middle","font":"Liberation Sans"},"encoding":{"text":{"field":"t"}}}
]},
{"encoding":{"y":{"field":"lo","type":"quantitative","scale":{"domain":[1.04,2.5],"range":[507.3,50.7],"nice":false},"axis":{"zindex":1,"orient":"right","offset":-77,"values":[1.25,1.5,1.75,2,2.25,2.5],"format":".2f","title":null,"labelPadding":12,"labelOffset":2}}},
"layer":[
{"data":{"values":[{"lo":1.04,"hi":2.5}]},"mark":{"type":"rect","stroke":"#000","strokeOpacity":0.35,"strokeWidth":1,"fill":{"x1":0,"y1":1,"x2":0,"y2":0,"gradient":"linear","stops":[{"offset":0,"color":"#f5f6ee"},{"offset":0.144,"color":"#fbfbd2"},{"offset":0.247,"color":"#fdfba6"},{"offset":0.366,"color":"#fffb66"},{"offset":0.486,"color":"#f5e04e"},{"offset":0.658,"color":"#e8b03e"},{"offset":0.829,"color":"#de7a34"},{"offset":0.918,"color":"#da5a31"},{"offset":1,"color":"#d3222c"}]}},"encoding":{"x":{"datum":0,"type":"quantitative","scale":{"domain":[0,1],"range":[976,1002]},"axis":null},"x2":{"datum":1},"y2":{"field":"hi"}}},
{"data":{"values":[{"lo":1.05},{"lo":1.1},{"lo":1.15},{"lo":1.2},{"lo":1.3},{"lo":1.35},{"lo":1.4},{"lo":1.45},{"lo":1.55},{"lo":1.6},{"lo":1.65},{"lo":1.7},{"lo":1.8},{"lo":1.85},{"lo":1.9},{"lo":1.95},{"lo":2.05},{"lo":2.1},{"lo":2.15},{"lo":2.2},{"lo":2.3},{"lo":2.35},{"lo":2.4},{"lo":2.45}]},"mark":{"type":"rule","stroke":"#aaa","strokeWidth":0.8},"encoding":{"x":{"datum":1,"type":"quantitative","scale":{"domain":[0,1],"range":[976,1002]},"axis":null},"x2":{"datum":1.16}}},
{"data":{"values":[{"lo":1.25},{"lo":1.5},{"lo":1.75},{"lo":2},{"lo":2.25},{"lo":2.5}]},"mark":{"type":"rule","stroke":"#aaa","strokeWidth":0.8},"encoding":{"x":{"datum":1,"type":"quantitative","scale":{"domain":[0,1],"range":[976,1002]},"axis":null},"x2":{"datum":1.28}}},
{"data":{"values":[{"lo":2.605,"t":"Φ(eV)"}]},"mark":{"type":"text","fontSize":22,"align":"center","baseline":"middle","font":"Liberation Sans"},"encoding":{"x":{"datum":1.42,"type":"quantitative","scale":{"domain":[0,1],"range":[976,1002]},"axis":null},"text":{"field":"t"}}}
]},
{"encoding":{"y":{"field":"lo","type":"quantitative","scale":{"domain":[0,0.0035],"range":[1106.7,651.7],"nice":false},"axis":{"zindex":1,"orient":"right","offset":-89.7,"values":[0.0005,0.001,0.0015,0.002,0.0025,0.003],"format":".4f","title":null,"labelPadding":13,"labelOffset":2}}},
"layer":[
{"data":{"values":[{"lo":0,"hi":0.0035}]},"mark":{"type":"rect","stroke":"#000","strokeOpacity":0.35,"strokeWidth":1,"fill":{"x1":0,"y1":1,"x2":0,"y2":0,"gradient":"linear","stops":[{"offset":0,"color":"#f5f6ee"},{"offset":0.144,"color":"#fbfbd2"},{"offset":0.247,"color":"#fdfba6"},{"offset":0.366,"color":"#fffb66"},{"offset":0.486,"color":"#f5e04e"},{"offset":0.658,"color":"#e8b03e"},{"offset":0.829,"color":"#de7a34"},{"offset":0.918,"color":"#da5a31"},{"offset":1,"color":"#d3222c"}]}},"encoding":{"x":{"datum":0,"type":"quantitative","scale":{"domain":[0,1],"range":[963.3,989.3]},"axis":null},"x2":{"datum":1},"y2":{"field":"hi"}}},
{"data":{"values":[{"lo":0.00016},{"lo":0.00032},{"lo":0.00048},{"lo":0.00064},{"lo":0.0008},{"lo":0.00096},{"lo":0.00112},{"lo":0.00128},{"lo":0.00144},{"lo":0.0016},{"lo":0.00176},{"lo":0.00192},{"lo":0.00208},{"lo":0.00224},{"lo":0.0024},{"lo":0.00256},{"lo":0.00272},{"lo":0.00288},{"lo":0.00304},{"lo":0.0032}]},"mark":{"type":"rule","stroke":"#000","strokeOpacity":0.6,"strokeWidth":0.8},"encoding":{"x":{"datum":0,"type":"quantitative","scale":{"domain":[0,1],"range":[963.3,989.3]},"axis":null},"x2":{"datum":1}}},
{"data":{"values":[{"lo":0.0001},{"lo":0.0002},{"lo":0.0003},{"lo":0.0004},{"lo":0.0006},{"lo":0.0007},{"lo":0.0008},{"lo":0.0009},{"lo":0.0011},{"lo":0.0012},{"lo":0.0013},{"lo":0.0014},{"lo":0.0016},{"lo":0.0017},{"lo":0.0018},{"lo":0.0019},{"lo":0.0021},{"lo":0.0022},{"lo":0.0023},{"lo":0.0024},{"lo":0.0026},{"lo":0.0027},{"lo":0.0028},{"lo":0.0029},{"lo":0.0031},{"lo":0.0032},{"lo":0.0033},{"lo":0.0034}]},"mark":{"type":"rule","stroke":"#aaa","strokeWidth":0.8},"encoding":{"x":{"datum":1,"type":"quantitative","scale":{"domain":[0,1],"range":[963.3,989.3]},"axis":null},"x2":{"datum":1.16}}},
{"data":{"values":[{"lo":0.0005},{"lo":0.001},{"lo":0.0015},{"lo":0.002},{"lo":0.0025},{"lo":0.003}]},"mark":{"type":"rule","stroke":"#aaa","strokeWidth":0.8},"encoding":{"x":{"datum":1,"type":"quantitative","scale":{"domain":[0,1],"range":[963.3,989.3]},"axis":null},"x2":{"datum":1.28}}},
{"data":{"values":[{"lo":0.00373,"t":"B(T)"}]},"mark":{"type":"text","fontSize":22,"align":"center","baseline":"middle","font":"Liberation Sans"},"encoding":{"x":{"datum":1.92,"type":"quantitative","scale":{"domain":[0,1],"range":[963.3,989.3]},"axis":null},"text":{"field":"t"}}}
]},
{"data":{"values":[{"x":-1.628,"z":-0.8265,"t":"Accepted Manuscript"}]},"mark":{"type":"text","font":"Liberation Serif","fontSize":254,"align":"left","baseline":"alphabetic","angle":305,"fill":"#000","opacity":0.3},"encoding":{"x":{"field":"x","type":"quantitative","scale":{"domain":[-1.146,1.146],"range":[78.5,934.5],"nice":false},"axis":null},"y":{"field":"z","type":"quantitative","scale":{"domain":[0.878,2.123],"range":[1079.5,615.1],"nice":false},"axis":null},"text":{"field":"t"}}}
]}
